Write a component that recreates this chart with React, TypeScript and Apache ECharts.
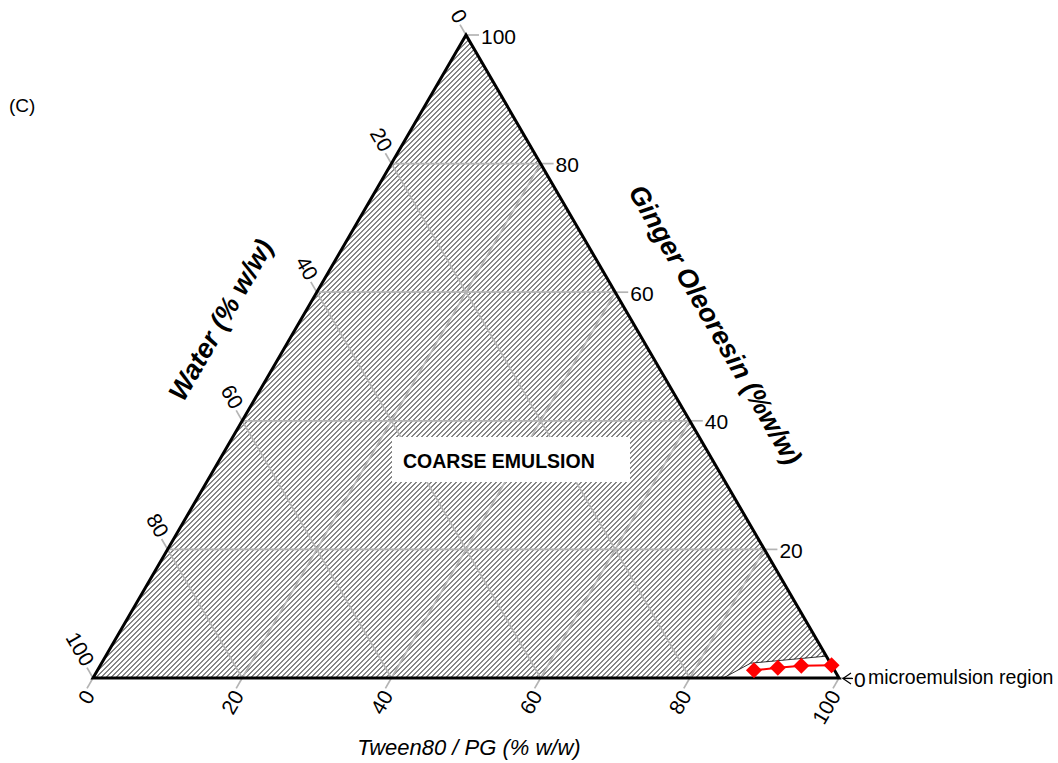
import React, { useEffect, useRef } from "react";
import * as echarts from "echarts";

// Ternary layout: Tween80/PG along the bottom (0 → 100 left to right),
// Ginger oleoresin up the right side, water down the left side.
const SQ3 = Math.sqrt(3) / 2;
const TICKS = [0, 20, 40, 60, 80, 100];
const TICK_LABELS = ["0", "20", "40", "60", "80", "100"];

// Microemulsion points: Tween80/PG and ginger oleoresin (% w/w), water is the balance
const POINT_TWEEN = [88, 91, 94, 98];
const POINT_GINGER = [1.2, 1.6, 1.9, 2.0];

// Outline of the microemulsion region (Tween80/PG, ginger oleoresin)
const REGION_TWEEN = [84.5, 87, 96.6, 100];
const REGION_GINGER = [0, 2.3, 3.4, 0];

const FONT = "'Liberation Sans', Arial, Helvetica, sans-serif";
const HATCH_STEP = 5;

const toXY = (t: number, g: number): [number, number] => [t + g / 2, g * SQ3];

function renderFrame(_params: any, api: any) {
  const px = (t: number, g: number): number[] => api.coord(toXY(t, g));
  const children: any[] = [];
  const bl = px(0, 0);
  const br = px(100, 0);
  const top = px(0, 100);
  const tri = [bl, br, top];

  // diagonal hatching clipped to the triangle
  const sums = tri.map((p) => p[0] + p[1]);
  const cMin = Math.min(...sums);
  const cMax = Math.max(...sums);
  for (let c = cMin + HATCH_STEP / 2; c < cMax; c += HATCH_STEP) {
    const pts: number[][] = [];
    for (let i = 0; i < 3; i++) {
      const P = tri[i];
      const Q = tri[(i + 1) % 3];
      const den = Q[0] - P[0] + (Q[1] - P[1]);
      if (Math.abs(den) < 1e-9) continue;
      const s = (c - P[0] - P[1]) / den;
      if (s >= 0 && s <= 1) pts.push([P[0] + s * (Q[0] - P[0]), P[1] + s * (Q[1] - P[1])]);
    }
    if (pts.length >= 2) {
      pts.sort((a, b) => a[0] - b[0]);
      const a = pts[0];
      const b = pts[pts.length - 1];
      children.push({
        type: "line",
        shape: { x1: a[0], y1: a[1], x2: b[0], y2: b[1] },
        style: { stroke: "#000", lineWidth: 0.95 },
      });
    }
  }

  const gridStyle = { stroke: "#b4b4b4", lineWidth: 1.7 };
  const seg = (a: number[], b: number[], style = gridStyle) => ({
    type: "line",
    shape: { x1: a[0], y1: a[1], x2: b[0], y2: b[1] },
    style,
  });

  // grid lines
  TICKS.forEach((v) => {
    if (v === 0 || v === 100) return;
    children.push(seg(px(0, v), px(100 - v, v))); // constant ginger
    children.push(seg(px(v, 0), px(v, 100 - v))); // constant tween
    children.push(seg(px(0, 100 - v), px(100 - v, 0))); // constant water
  });

  const label = (text: string, x: number, y: number, align: string, rotation: number) => ({
    type: "text",
    x,
    y,
    rotation,
    style: {
      text,
      fill: "#000",
      font: `21px ${FONT}`,
      align,
      textAlign: align,
      verticalAlign: "middle",
      textVerticalAlign: "middle",
    },
  });

  const c60 = 0.5;
  const s60 = SQ3;
  TICKS.forEach((v, i) => {
    // ginger ticks on the right edge
    const pg = px(100 - v, v);
    children.push(seg(pg, [pg[0] + 13, pg[1]]));
    children.push(label(TICK_LABELS[i], pg[0] + 15, pg[1] + 1, "left", 0));
    // tween ticks on the bottom edge
    const pt = px(v, 0);
    children.push(seg(pt, [pt[0] - 12 * c60, pt[1] + 12 * s60]));
    children.push(label(TICK_LABELS[i], pt[0] - 4, pt[1] + 14, "right", Math.PI / 3));
    // water ticks on the left edge
    const pw = px(0, 100 - v);
    children.push(seg(pw, [pw[0] - 12 * c60, pw[1] - 12 * s60]));
    children.push(label(TICK_LABELS[i], pw[0] - 4, pw[1] - 14, "right", -Math.PI / 3));
  });

  // microemulsion region (left clear of hatching)
  children.push({
    type: "polygon",
    shape: { points: REGION_TWEEN.map((t, i) => px(t, REGION_GINGER[i])) },
    style: { fill: "#fff", stroke: "#000", lineWidth: 0.8 },
  });

  // triangle outline
  children.push({
    type: "polygon",
    shape: { points: tri },
    style: { fill: "none", stroke: "#000", lineWidth: 3 },
  });

  return { type: "group", children };
}

export default function App() {
  const ref = useRef<HTMLDivElement>(null);

  useEffect(() => {
    const chart = echarts.init(ref.current!, null, { renderer: "svg" });

    const text = (
      str: string,
      x: number,
      y: number,
      font: string,
      align = "center",
      rotation = 0
    ) => ({
      type: "text",
      x,
      y,
      rotation,
      z: 20,
      style: {
        text: str,
        fill: "#000",
        font,
        align,
        textAlign: align,
        verticalAlign: "middle",
        textVerticalAlign: "middle",
      },
    });

    chart.setOption({
      animation: false,
      backgroundColor: "#fff",
      grid: { left: 93, right: 219, top: 35, bottom: 85 },
      xAxis: { type: "value", min: 0, max: 100, show: false },
      yAxis: { type: "value", min: 0, max: 100 * SQ3, show: false },
      series: [
        {
          type: "custom",
          z: 2,
          renderItem: renderFrame,
          data: [[0, 0]],
          silent: true,
        },
        {
          type: "line",
          z: 5,
          data: POINT_TWEEN.map((t, i) => toXY(t, POINT_GINGER[i])),
          symbol: "diamond",
          symbolSize: 16,
          itemStyle: { color: "#ff0000" },
          lineStyle: { color: "#ff0000", width: 2 },
          clip: false,
          silent: true,
        },
      ],
      graphic: [
        text("(C)", 9, 105, `19px ${FONT}`, "left"),
        {
          type: "rect",
          z: 19,
          shape: { x: 392, y: 437, width: 238, height: 45 },
          style: { fill: "#fff" },
        },
        text("COARSE EMULSION", 403, 461, `bold 19.5px ${FONT}`, "left"),
        text("Water (% w/w)", 221, 320, `italic bold 27px ${FONT}`, "center", Math.PI / 3),
        text(
          "Ginger Oleoresin (%w/w)",
          715,
          325,
          `italic bold 27px ${FONT}`,
          "center",
          -Math.PI / 3
        ),
        text("Tween80 / PG (% w/w)", 469, 747, `italic 22px ${FONT}`, "center"),
        {
          type: "polyline",
          z: 20,
          shape: { points: [[851, 673], [843, 678.5], [851, 684]] },
          style: { stroke: "#000", lineWidth: 1.2, fill: "none" },
        },
        {
          type: "line",
          z: 20,
          shape: { x1: 843, y1: 678.5, x2: 853, y2: 678.5 },
          style: { stroke: "#000", lineWidth: 1.2 },
        },
        text("microemulsion region", 868, 677, `19.5px ${FONT}`, "left"),
      ],
    });

    return () => chart.dispose();
  }, []);

  return (
    <div
      ref={ref}
      style={{ position: "absolute", left: 0, top: 0, width: 1058, height: 763 }}
    />
  );
}
